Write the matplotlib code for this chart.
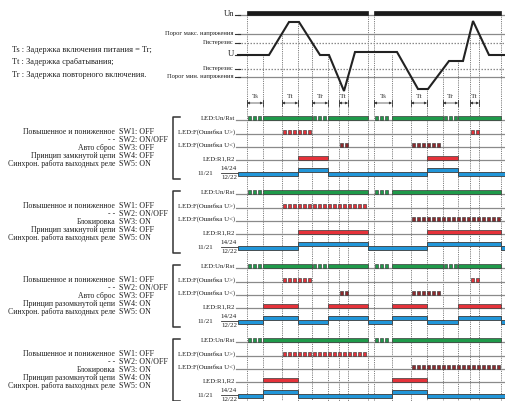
import matplotlib
matplotlib.use("Agg")
import matplotlib.pyplot as plt
from matplotlib.patches import Rectangle

plt.rcParams['font.family'] = ['Liberation Serif', 'DejaVu Serif']

# ---------------- data ----------------
# supply voltage waveform (time, level) in diagram units
wave_t = [238, 269, 289, 299, 320, 329, 344, 355, 397, 418, 428, 449, 463, 473, 489, 506]
wave_v = [55, 55, 22, 22, 55, 55, 91, 52, 52, 89, 89, 61, 61, 21, 55, 55]

# voltage reference levels
level_un = 15
level_max = 34
level_hyst_hi = 43
level_u = 55
level_hyst_lo = 69
level_min = 77

# power (Un) present intervals
power_on = [(247, 368), (374, 501)]

# event times and where their guide lines start
event_times = [247, 263, 282, 298, 312, 328, 339, 348, 368, 374, 392, 411, 427, 443, 458, 470, 479, 501]
event_tops = [15, 55, 34, 22, 43, 55, 77, 77, 15, 15, 55, 77, 89, 69, 61, 34, 34, 15]

# timing brackets
timing = [(247, 263, 'Ts'), (282, 298, 'Tt'), (312, 328, 'Tr'), (339, 348, 'Tt'),
          (374, 392, 'Ts'), (411, 427, 'Tt'), (443, 458, 'Tr'), (470, 479, 'Tt')]

legend_lines = ['Ts : Задержка включения питания = Tr;',
                'Tt : Задержка срабатывания;',
                'Tr : Задержка повторного включения.']

level_labels = [('Un', level_un), ('Порог макс. напряжения', level_max), ('Гистерезис', level_hyst_hi),
                ('U', level_u), ('Гистерезис', level_hyst_lo), ('Порог мин. напряжения', level_min)]

# panels
panel_top = [120, 194, 268, 342]
panel_desc = [
    ['Повышенное и пониженное', '- -', 'Авто сброс', 'Принцип замкнутой цепи', 'Синхрон. работа выходных реле'],
    ['Повышенное и пониженное', '- -', 'Блокировка', 'Принцип замкнутой цепи', 'Синхрон. работа выходных реле'],
    ['Повышенное и пониженное', '- -', 'Авто сброс', 'Принцип разомкнутой цепи', 'Синхрон. работа выходных реле'],
    ['Повышенное и пониженное', '- -', 'Блокировка', 'Принцип разомкнутой цепи', 'Синхрон. работа выходных реле'],
]
panel_sw = [
    ['SW1: OFF', 'SW2: ON/OFF', 'SW3: OFF', 'SW4: OFF', 'SW5: ON'],
    ['SW1: OFF', 'SW2: ON/OFF', 'SW3: ON', 'SW4: OFF', 'SW5: ON'],
    ['SW1: OFF', 'SW2: ON/OFF', 'SW3: OFF', 'SW4: ON', 'SW5: ON'],
    ['SW1: OFF', 'SW2: ON/OFF', 'SW3: ON', 'SW4: ON', 'SW5: ON'],
]
row_labels = ['LED:Un/Rst', 'LED:F(Ошибка U>)', 'LED:F(Ошибка U<)', 'LED:R1,R2']

green_blink = [
    [(247, 263), (312, 328), (374, 392), (443, 458)],
    [(247, 263), (374, 392)],
    [(247, 263), (312, 328), (374, 392), (443, 458)],
    [(247, 263), (374, 392)],
]
green_solid = [
    [(263, 312), (328, 368), (392, 443), (458, 501)],
    [(263, 368), (392, 501)],
    [(263, 312), (328, 368), (392, 443), (458, 501)],
    [(263, 368), (392, 501)],
]
over_blink = [
    [(282, 312), (470, 480)],
    [(282, 368)],
    [(282, 312), (470, 480)],
    [(282, 368)],
]
under_blink = [
    [(339, 349), (411, 443)],
    [(411, 501)],
    [(339, 349), (411, 443)],
    [(411, 501)],
]
relay_on = [
    [(298, 328), (427, 458)],
    [(298, 368), (427, 501)],
    [(263, 298), (328, 368), (392, 427), (458, 501)],
    [(263, 298), (392, 427)],
]

# ---------------- styles ----------------
C_GREEN = '#1f9a4a'
C_RED = '#e5323a'
C_DRED = '#8e2a2e'
C_BLUE = '#2196d9'
C_EDGE = '#3a3a3a'
C_LINE = '#8a8a8a'
C_GUIDE = '#555555'
X0, X1 = 238, 506

fig = plt.figure(figsize=(5.06, 4.01), dpi=100)
ax = fig.add_axes([0, 0, 1, 1])
ax.set_xlim(0, 506)
ax.set_ylim(401, 0)
ax.axis('off')


def blocks(y, intervals, color, period=5.0, width=3.0, h=4.0):
    for a, b in intervals:
        n = max(1, int((b - a + 1.5) // period))
        for k in range(n):
            ax.add_patch(Rectangle((a + 0.8 + k * period, y - h), width, h,
                                   facecolor=color, edgecolor=C_EDGE, lw=0.45, zorder=4))


def bars(y, intervals, color, h=4.0):
    for a, b in intervals:
        ax.add_patch(Rectangle((a, y - h), b - a, h, facecolor=color,
                               edgecolor=C_EDGE, lw=0.5, zorder=4))


# vertical guide lines
for t, top in zip(event_times, event_tops):
    ax.plot([t, t], [top, 401], color=C_GUIDE, lw=0.6, ls=(0, (1, 1.2)), zorder=1)

# voltage section
for lv in (level_un, level_max, level_min):
    ax.plot([X0, X1], [lv, lv], color=C_LINE, lw=0.9, zorder=2)
for lv in (level_hyst_hi, level_hyst_lo):
    ax.plot([X0, X1], [lv, lv], color=C_LINE, lw=0.9, ls=(0, (1.2, 1.2)), zorder=2)
for a, b in power_on:
    ax.add_patch(Rectangle((a, level_un - 4.5), b - a, 4.5, facecolor='#1a1a1a', edgecolor='#1a1a1a', lw=0.5, zorder=3))
ax.plot(wave_t, wave_v, color='#222222', lw=1.5, zorder=3, solid_joinstyle='miter')

for txt, lv in level_labels:
    fs = 6.2 if txt in ('Un', 'U') else 4.7
    ax.text(234, lv - 0.5, txt, ha='right', va='center', fontsize=fs, color='#222')
    ax.plot([235, X0 + 2], [lv, lv], color='#333', lw=0.8, zorder=2)

for i, line in enumerate(legend_lines):
    ax.text(12, 50 + i * 12.5, line, ha='left', va='center', fontsize=6.0, color='#222')

# timing brackets
for a, b, lab in timing:
    ax.plot([a, a], [100, 106], color='#333', lw=0.6, zorder=3)
    ax.plot([b, b], [100, 106], color='#333', lw=0.6, zorder=3)
    ax.annotate('', xy=(a, 103), xytext=(b, 103),
                arrowprops=dict(arrowstyle='<|-|>', lw=0.5, color='#333',
                                mutation_scale=3.5, shrinkA=0, shrinkB=0))
    ax.text((a + b) / 2, 99.5, lab, ha='center', va='bottom', fontsize=5.4, color='#333')

# panels
for p, top in enumerate(panel_top):
    rows = [top, top + 13.5, top + 26.5, top + 40]
    ry = top + 54
    # bracket
    ax.plot([180, 173, 173, 180], [top - 3, top - 3, top + 59, top + 59], color='#333', lw=1.1)
    # switch text
    for k, (d, s) in enumerate(zip(panel_desc[p], panel_sw[p])):
        yy = top + 11.5 + 8 * k
        ax.text(115, yy, d, ha='right', va='center', fontsize=5.6, color='#222')
        ax.text(119, yy, s, ha='left', va='center', fontsize=5.8, color='#222')
    # rows
    for k, (lab, yy) in enumerate(zip(row_labels, rows)):
        ax.plot([X0 - 2, X1], [yy, yy], color=C_LINE, lw=0.9, zorder=2)
        ax.text(235, yy - 1.5, lab, ha='right', va='center', fontsize=4.9, color='#222')
    blocks(rows[0], green_blink[p], C_GREEN)
    bars(rows[0], green_solid[p], C_GREEN)
    blocks(rows[1], over_blink[p], C_RED)
    blocks(rows[2], under_blink[p], C_DRED)
    bars(rows[3], relay_on[p], C_RED)
    # relay contacts
    ax.text(197, ry - 0.5, '11/21', ha='left', va='center', fontsize=5.0, color='#222')
    ax.text(229, ry - 5.5, '14/24', ha='center', va='center', fontsize=5.0, color='#222')
    ax.text(229, ry + 3.5, '12/22', ha='center', va='center', fontsize=5.0, color='#222')
    ax.plot([221, 238], [ry - 1.5, ry - 1.5], color='#333', lw=0.6)
    edges = [X0]
    for a, b in relay_on[p]:
        edges += [a, b]
    edges.append(X1)
    on_set = set(relay_on[p])
    for a, b in zip(edges[:-1], edges[1:]):
        if b <= a:
            continue
        hi = (a, b) in on_set
        y0 = ry - 6 if hi else ry - 2
        ax.add_patch(Rectangle((a, y0), b - a, 4, facecolor=C_BLUE, edgecolor=C_EDGE, lw=0.6, zorder=4))

fig.savefig('out.png', dpi=100)
